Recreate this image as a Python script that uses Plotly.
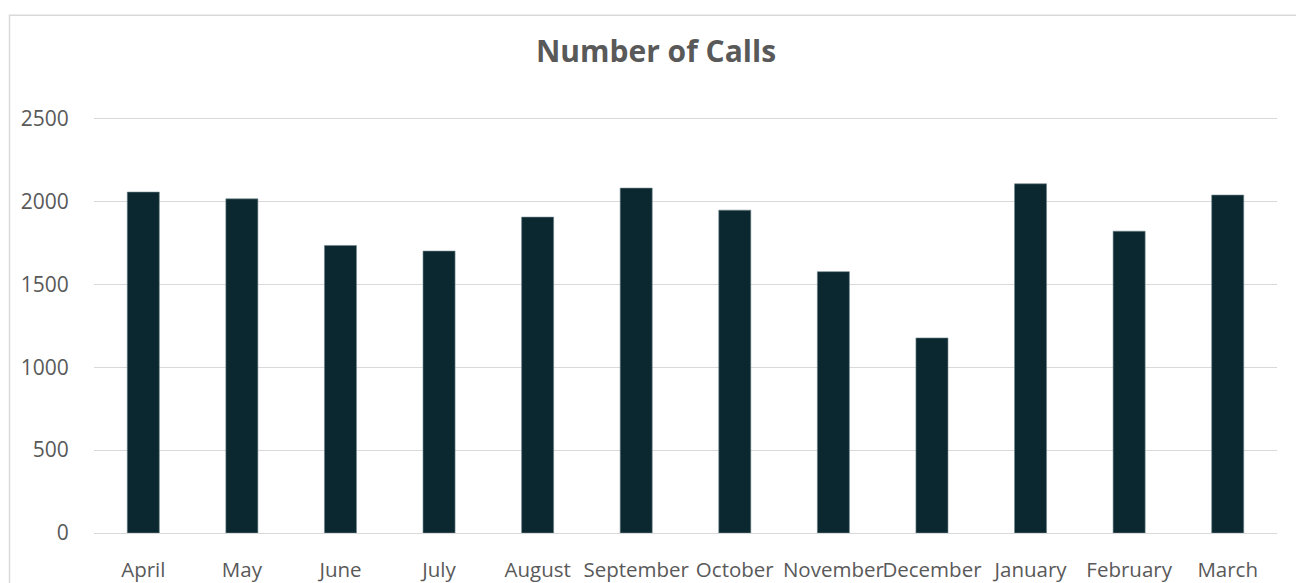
import plotly.graph_objects as go

months = ["April", "May", "June", "July", "August", "September", "October",
          "November", "December", "January", "February", "March"]
calls = [2057, 2016, 1735, 1701, 1906, 2081, 1948, 1577, 1177, 2107, 1821, 2039]
y_ticks = [0, 500, 1000, 1500, 2000, 2500]
y_max = 2510

W, H = 1296, 583
zero_px, top_grid_px = 533.3, 118.5
px_per_unit = (zero_px - top_grid_px) / 2500
L, R = 94, 19
B = H - zero_px
T = zero_px - px_per_unit * y_max
plot_w = W - L - R
plot_h = H - T - B

font_family = "Open Sans, Lato, sans-serif"
text_color = "#595959"
grid_color = "#D9D9D9"

fig = go.Figure()
fig.add_trace(go.Bar(
    x=months, y=calls,
    marker=dict(color="#0B2830", line=dict(color="#6E8489", width=0.6)),
    width=0.325,
))

fig.update_layout(
    width=W, height=H,
    margin=dict(l=L, r=R, t=T, b=B, pad=0, autoexpand=False),
    paper_bgcolor="white", plot_bgcolor="white",
    showlegend=False,
    title=dict(text="<b>Number of Calls</b>", xref="container", yref="container",
               x=656 / W, xanchor="center", y=1 - 51 / H, yanchor="middle",
               font=dict(family=font_family, size=30, color=text_color)),
    font=dict(family=font_family, color=text_color, size=20),
    xaxis=dict(showgrid=False, showline=False, zeroline=False, automargin=False,
               tickangle=0,
               ticks="outside", ticklen=18, tickcolor="rgba(0,0,0,0)",
               tickfont=dict(size=20.5, color=text_color)),
    yaxis=dict(range=[0, y_max], tickvals=y_ticks, showgrid=True, automargin=False,
               gridcolor=grid_color, gridwidth=1.3,
               zeroline=True, zerolinecolor=grid_color, zerolinewidth=1.3,
               showline=False, ticks="outside", ticklen=20,
               tickcolor="rgba(0,0,0,0)",
               tickfont=dict(size=21, color=text_color)),
    shapes=[dict(type="rect", xref="paper", yref="paper",
                 x0=(9.5 - L) / plot_w, x1=1.2,
                 y0=-0.3, y1=(H - B - 15) / plot_h,
                 line=dict(color=grid_color, width=1.5), fillcolor="rgba(0,0,0,0)",
                 layer="below")],
)

fig.write_html(
    "out.html",
    config={"displayModeBar": False},
    post_script="document.body.style.margin='0';document.body.style.overflow='hidden';",
)
